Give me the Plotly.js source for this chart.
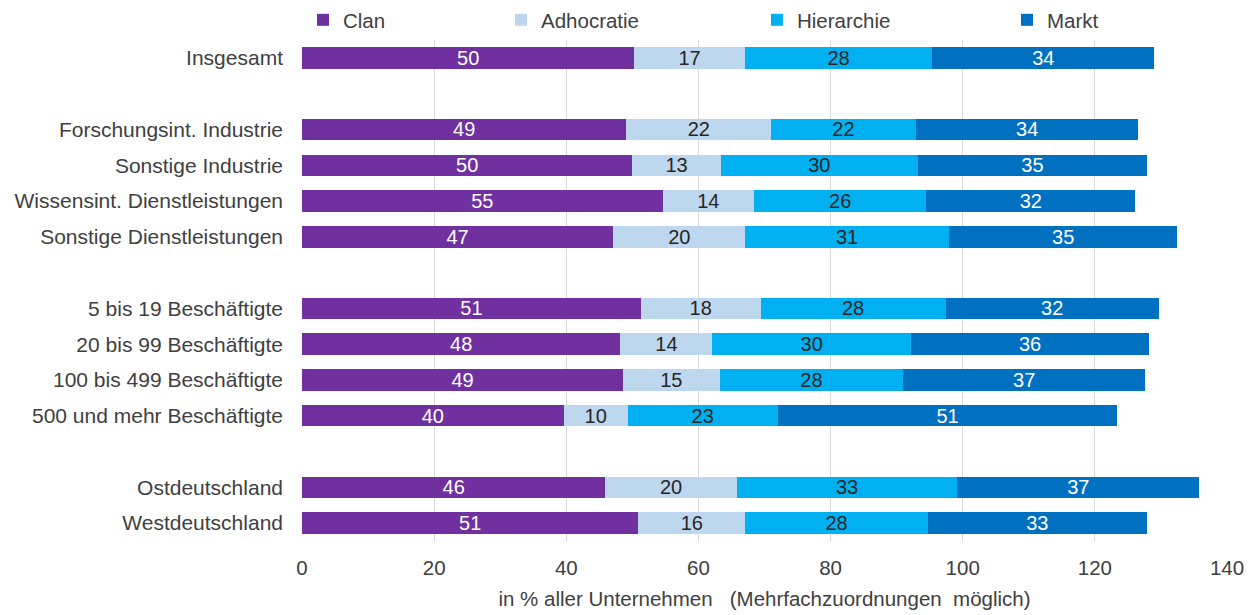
<!DOCTYPE html>
<html>
<head>
<meta charset="utf-8">
<script src="https://cdn.plot.ly/plotly-3.0.1.min.js"></script>
<style>
html, body { margin: 0; padding: 0; background: #ffffff; }
#chart { width: 1255px; height: 615px; }
</style>
</head>
<body>
<div id="chart"></div>
<script>
// Categories (blank entries are the spacer rows between groups)
const categories = [
  "Insgesamt",
  " ",
  "Forschungsint. Industrie",
  "Sonstige Industrie",
  "Wissensint. Dienstleistungen",
  "Sonstige Dienstleistungen",
  "  ",
  "5 bis 19 Beschäftigte",
  "20 bis 99 Beschäftigte",
  "100 bis 499 Beschäftigte",
  "500 und mehr Beschäftigte",
  "   ",
  "Ostdeutschland",
  "Westdeutschland"
];

const seriesNames = ["Clan", "Adhocratie", "Hierarchie", "Markt"];

// Values in % of companies
const clan       = [50.3, null, 49.1, 50.0, 54.6, 47.1, null, 51.3, 48.2, 48.6, 39.6, null, 45.9, 50.9];
const adhocratie = [16.7, null, 21.9, 13.4, 13.8, 20.0, null, 18.1, 13.9, 14.6,  9.7, null, 19.9, 16.2];
const hierarchie = [28.4, null, 21.9, 29.8, 26.1, 30.8, null, 28.0, 30.1, 27.8, 22.7, null, 33.4, 27.6];
const markt      = [33.6, null, 33.7, 34.7, 31.6, 34.6, null, 32.3, 36.0, 36.6, 51.4, null, 36.6, 33.2];

const xTicks = [0, 20, 40, 60, 80, 100, 120, 140];

const FONT = "Liberation Sans, Arial, sans-serif";
const TXT = "#404040";

const colors = ["#7030A0", "#BDD7EE", "#00B0F0", "#0070C0"];
const labelColors = ["#ffffff", "#262626", "#262626", "#ffffff"];
const seriesValues = [clan, adhocratie, hierarchie, markt];
const legendIds = ["legend", "legend2", "legend3", "legend4"];

const traces = seriesValues.map((vals, i) => ({
  type: "bar",
  orientation: "h",
  name: seriesNames[i],
  y: categories,
  x: vals,
  marker: { color: colors[i], line: { width: 0 } },
  texttemplate: "%{x:.0f}",
  textposition: "inside",
  insidetextanchor: "middle",
  constraintext: "none",
  textangle: 0,
  textfont: { family: FONT, size: 20, color: labelColors[i] },
  insidetextfont: { family: FONT, size: 20, color: labelColors[i] },
  legend: legendIds[i],
  hoverinfo: "x+y+name"
}));

function legendAt(xpx) {
  return {
    orientation: "h",
    xref: "container", yref: "container",
    x: xpx / 1255, xanchor: "left",
    y: 1, yanchor: "top",
    bgcolor: "rgba(0,0,0,0)",
    font: { family: FONT, size: 20.5, color: TXT },
    itemwidth: 30,
    traceorder: "normal"
  };
}

const layout = {
  width: 1255,
  height: 615,
  paper_bgcolor: "#ffffff",
  plot_bgcolor: "#ffffff",
  barmode: "stack",
  bargap: 0.4,
  margin: { l: 302, r: 28, t: 39, b: 74, pad: 0 },
  font: { family: FONT, size: 20, color: TXT },
  showlegend: true,
  legend: legendAt(303),
  legend2: legendAt(501),
  legend3: legendAt(757),
  legend4: legendAt(1007),
  xaxis: {
    range: [0, 140],
    tickvals: xTicks,
    ticktext: xTicks.map(String),
    showgrid: true,
    gridcolor: "#d9d9d9",
    gridwidth: 1,
    zeroline: false,
    showline: false,
    ticks: "",
    ticklabelstandoff: 12,
    tickfont: { family: FONT, size: 20.5, color: TXT },
    title: {
      text: "in % aller Unternehmen \u00a0\u00a0(Mehrfachzuordnungen \u00a0möglich)",
      font: { family: FONT, size: 20.5, color: TXT },
      standoff: 14
    },
    fixedrange: true
  },
  yaxis: {
    type: "category",
    categoryorder: "array",
    categoryarray: categories,
    autorange: "reversed",
    showgrid: false,
    zeroline: false,
    showline: false,
    ticks: "",
    ticklabelstandoff: 18,
    tickfont: { family: FONT, size: 21, color: TXT },
    fixedrange: true
  }
};

Plotly.newPlot("chart", traces, layout, { displayModeBar: false, staticPlot: true });
</script>
</body>
</html>
